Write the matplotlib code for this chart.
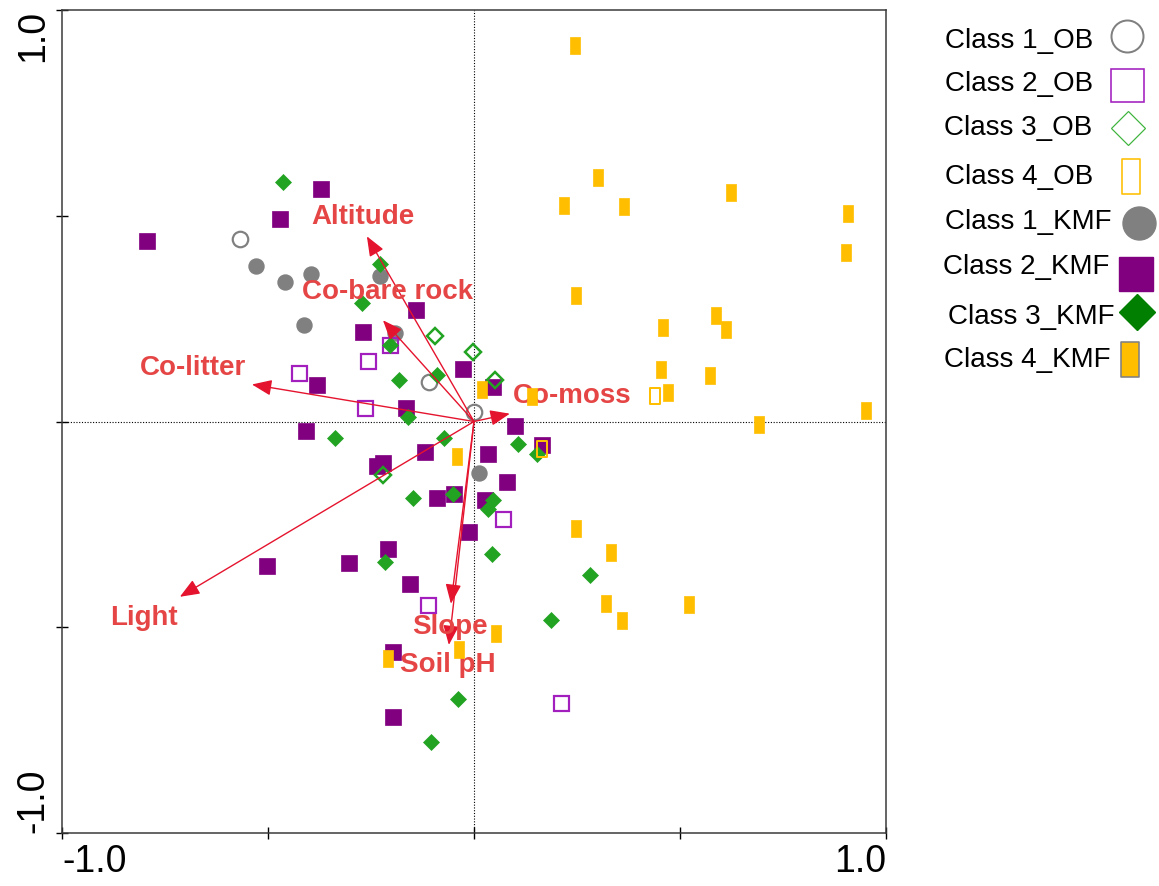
import matplotlib
matplotlib.use("Agg")
import matplotlib.pyplot as plt
from matplotlib.path import Path

plt.rcParams['font.family'] = ['Liberation Sans', 'DejaVu Sans']

# ---- sample scores (axis 1, axis 2) ----
c1_ob_x = [-0.568, -0.109, 0.000]
c1_ob_y = [0.443, 0.095, 0.024]

c1_kmf_x = [-0.529, -0.459, -0.396, -0.228, -0.413, -0.192, 0.012]
c1_kmf_y = [0.377, 0.338, 0.358, 0.353, 0.234, 0.214, -0.124]

c2_ob_x = [-0.425, -0.257, -0.265, -0.204, 0.070, -0.112, 0.211]
c2_ob_y = [0.117, 0.146, 0.032, 0.187, -0.236, -0.445, -0.684]

c2_kmf_x = [-0.794, -0.471, -0.371, -0.141, -0.269, -0.381, -0.165, -0.027, 0.046,
            -0.408, -0.119, 0.034, 0.100, 0.165, -0.235, -0.221, -0.090, -0.049,
            0.027, 0.080, -0.012, -0.209, -0.303, -0.155, -0.502, -0.197, -0.197]
c2_kmf_y = [0.438, 0.491, 0.564, 0.270, 0.217, 0.088, 0.032, 0.127, 0.083,
            -0.022, -0.073, -0.080, -0.010, -0.056, -0.107, -0.102, -0.185, -0.175,
            -0.190, -0.148, -0.268, -0.311, -0.343, -0.394, -0.350, -0.560, -0.718]

c3_ob_x = [-0.095, -0.002, 0.051, -0.221]
c3_ob_y = [0.207, 0.170, 0.100, -0.131]

c3_kmf_x = [-0.464, -0.228, -0.272, -0.204, -0.182, -0.090, -0.160, -0.337, -0.073,
            0.107, 0.153, -0.051, -0.148, 0.046, 0.034, 0.044, -0.216, 0.282,
            0.187, -0.039, -0.104]
c3_kmf_y = [0.582, 0.382, 0.287, 0.187, 0.102, 0.114, 0.010, -0.041, -0.039,
            -0.054, -0.080, -0.175, -0.187, -0.190, -0.212, -0.321, -0.341, -0.372,
            -0.482, -0.674, -0.779]

c4_ob_x = [0.439, 0.165]
c4_ob_y = [0.063, -0.066]

c4_kmf_x = [0.245, 0.301, 0.218, 0.364, 0.624, 0.908, 0.903, 0.248, 0.459, 0.587,
            0.612, 0.454, 0.573, 0.471, 0.141, 0.692, 0.951, 0.019, -0.041, 0.248,
            0.333, 0.320, 0.359, 0.522, 0.053, -0.036, -0.209]
c4_kmf_y = [0.915, 0.594, 0.526, 0.523, 0.557, 0.506, 0.411, 0.307, 0.229, 0.260,
            0.224, 0.127, 0.112, 0.071, 0.063, -0.007, 0.029, 0.080, -0.083, -0.260,
            -0.316, -0.440, -0.482, -0.443, -0.513, -0.552, -0.574]

# ---- environmental variables (arrow tips) ----
env_names = ['Altitude', 'Co-bare rock', 'Co-litter', 'Co-moss', 'Light', 'Slope', 'Soil pH']
env_x = [-0.260, -0.221, -0.539, 0.087, -0.714, -0.056, -0.061]
env_y = [0.450, 0.246, 0.090, 0.019, -0.426, -0.443, -0.543]
# label anchor (centre x, baseline y)
env_lab_x = [-0.269, -0.211, -0.682, 0.238, -0.801, -0.058, -0.063]
env_lab_y = [0.479, 0.297, 0.114, 0.046, -0.494, -0.516, -0.608]

legend_labels = ['Class 1_OB', 'Class 2_OB', 'Class 3_OB', 'Class 4_OB',
                 'Class 1_KMF', 'Class 2_KMF', 'Class 3_KMF', 'Class 4_KMF']

PX = 0.72  # points per pixel at 100 dpi


def bar_marker(half_w):
    verts = [(-half_w, -0.5), (half_w, -0.5), (half_w, 0.5), (-half_w, 0.5), (-half_w, -0.5)]
    codes = [Path.MOVETO, Path.LINETO, Path.LINETO, Path.LINETO, Path.CLOSEPOLY]
    return Path(verts, codes)


bar = bar_marker(0.29)
bar_leg = bar_marker(0.26)

GRAY = '#808080'
PURPLE = '#800080'
PURPLE_OPEN = '#A21FBE'
GREEN = '#22A322'
GREEN_DARK = '#007F00'
GREEN_OPEN = '#3CB43C'
ORANGE = '#FFBF00'
RED = '#E5142E'
RED_TXT = '#E54545'

fig = plt.figure(figsize=(11.59, 8.86), dpi=100)
ax = fig.add_axes([62 / 1159, 53 / 886, 824 / 1159, 823 / 886])
ax.set_xlim(-1, 1)
ax.set_ylim(-1, 1)

# origin cross-hair
ax.axhline(0, color='black', lw=0.8, ls=(0, (1, 1.5)), zorder=1)
ax.axvline(0, color='black', lw=0.8, ls=(0, (1, 1.5)), zorder=1)

# marker styles per class, in legend order: plot style, legend style
styles = [
    (dict(marker='o', ms=15.5 * PX, mfc='none', mec=GRAY, mew=2.2 * PX, zorder=2.1),
     dict(marker='o', ms=32 * PX, mfc='none', mec=GRAY, mew=2 * PX)),
    (dict(marker='s', ms=15 * PX, mfc='none', mec=PURPLE_OPEN, mew=2.2 * PX, zorder=2.1),
     dict(marker='s', ms=33 * PX, mfc='none', mec=PURPLE_OPEN, mew=1.6 * PX)),
    (dict(marker='D', ms=11.5 * PX, mfc='none', mec=GREEN, mew=2.5 * PX, zorder=2.3),
     dict(marker='D', ms=24 * PX, mfc='none', mec=GREEN_OPEN, mew=1.2 * PX)),
    (dict(marker=bar, ms=16 * PX, mfc='none', mec=ORANGE, mew=2 * PX, zorder=3.5),
     dict(marker=bar_leg, ms=35 * PX, mfc='none', mec=ORANGE, mew=1.6 * PX)),
    (dict(marker='o', ms=15 * PX, mfc=GRAY, mec=GRAY, zorder=2),
     dict(marker='o', ms=33 * PX, mfc=GRAY, mec=GRAY)),
    (dict(marker='s', ms=16 * PX, mfc=PURPLE, mec=PURPLE, mew=0.5, zorder=2),
     dict(marker='s', ms=34 * PX, mfc=PURPLE, mec=PURPLE)),
    (dict(marker='D', ms=11 * PX, mfc=GREEN, mec=GREEN, mew=0.5, zorder=2.2),
     dict(marker='D', ms=25 * PX, mfc=GREEN_DARK, mec=GREEN_DARK)),
    (dict(marker=bar, ms=17 * PX, mfc=ORANGE, mec=ORANGE, mew=0.5, zorder=3.5),
     dict(marker=bar_leg, ms=35 * PX, mfc=ORANGE, mec=GRAY, mew=1.6 * PX)),
]
series = [(c1_ob_x, c1_ob_y), (c2_ob_x, c2_ob_y), (c3_ob_x, c3_ob_y), (c4_ob_x, c4_ob_y),
          (c1_kmf_x, c1_kmf_y), (c2_kmf_x, c2_kmf_y), (c3_kmf_x, c3_kmf_y), (c4_kmf_x, c4_kmf_y)]

for (xs, ys), (st, _) in zip(series, styles):
    ax.plot(xs, ys, ls='none', **st)

# biplot arrows
for name, x, y, lx, ly in zip(env_names, env_x, env_y, env_lab_x, env_lab_y):
    ax.annotate('', xy=(x, y), xytext=(0, 0),
                arrowprops=dict(arrowstyle='-|>,head_length=0.8,head_width=0.32',
                                color=RED, lw=1.0, shrinkA=0, shrinkB=0,
                                mutation_scale=15),
                zorder=3)
    ax.text(lx, ly, name, color=RED_TXT, fontsize=20, fontweight='bold',
            ha='center', va='baseline', zorder=3.2)

# frame and ticks
for sp in ax.spines.values():
    sp.set_color('#3a3a3a')
    sp.set_linewidth(1.1)
ax.set_xticks([-1, -0.5, 0, 0.5, 1])
ax.set_yticks([-1, -0.5, 0, 0.5, 1])
ax.set_xticklabels(['-1.0', '', '', '', '1.0'])
ax.set_yticklabels(['-1.0', '', '', '', '1.0'], rotation=90)
ax.tick_params(axis='both', direction='inout', length=8, width=1.0, color='black',
               labelsize=27, pad=4)
xt = ax.get_xticklabels()
xt[0].set_horizontalalignment('left')
xt[-1].set_horizontalalignment('right')
yt = ax.get_yticklabels()
yt[0].set_verticalalignment('bottom')
yt[-1].set_verticalalignment('top')
for t in yt:
    t.set_horizontalalignment('right')

# key: labels left-aligned, symbols in a column to their right (pixel layout)
lax = fig.add_axes([0, 0, 1, 1])
lax.set_xlim(0, 1159)
lax.set_ylim(886, 0)
lax.axis('off')
text_x = [945, 945, 944, 945, 945, 943, 948, 944]
text_y = [38, 81, 125, 174, 219, 264, 314, 357]
mark_x = [1127, 1127, 1128, 1131, 1139, 1136, 1137, 1130]
mark_y = [36, 85, 128, 176, 223, 274, 312, 359]
for lab, tx, ty, mx, my, (_, lst) in zip(legend_labels, text_x, text_y, mark_x, mark_y, styles):
    lax.text(tx, ty + 10, lab, fontsize=20, color='black', ha='left', va='baseline')
    lax.plot([mx], [my], ls='none', clip_on=False, **lst)

fig.savefig('out.png', dpi=100)
